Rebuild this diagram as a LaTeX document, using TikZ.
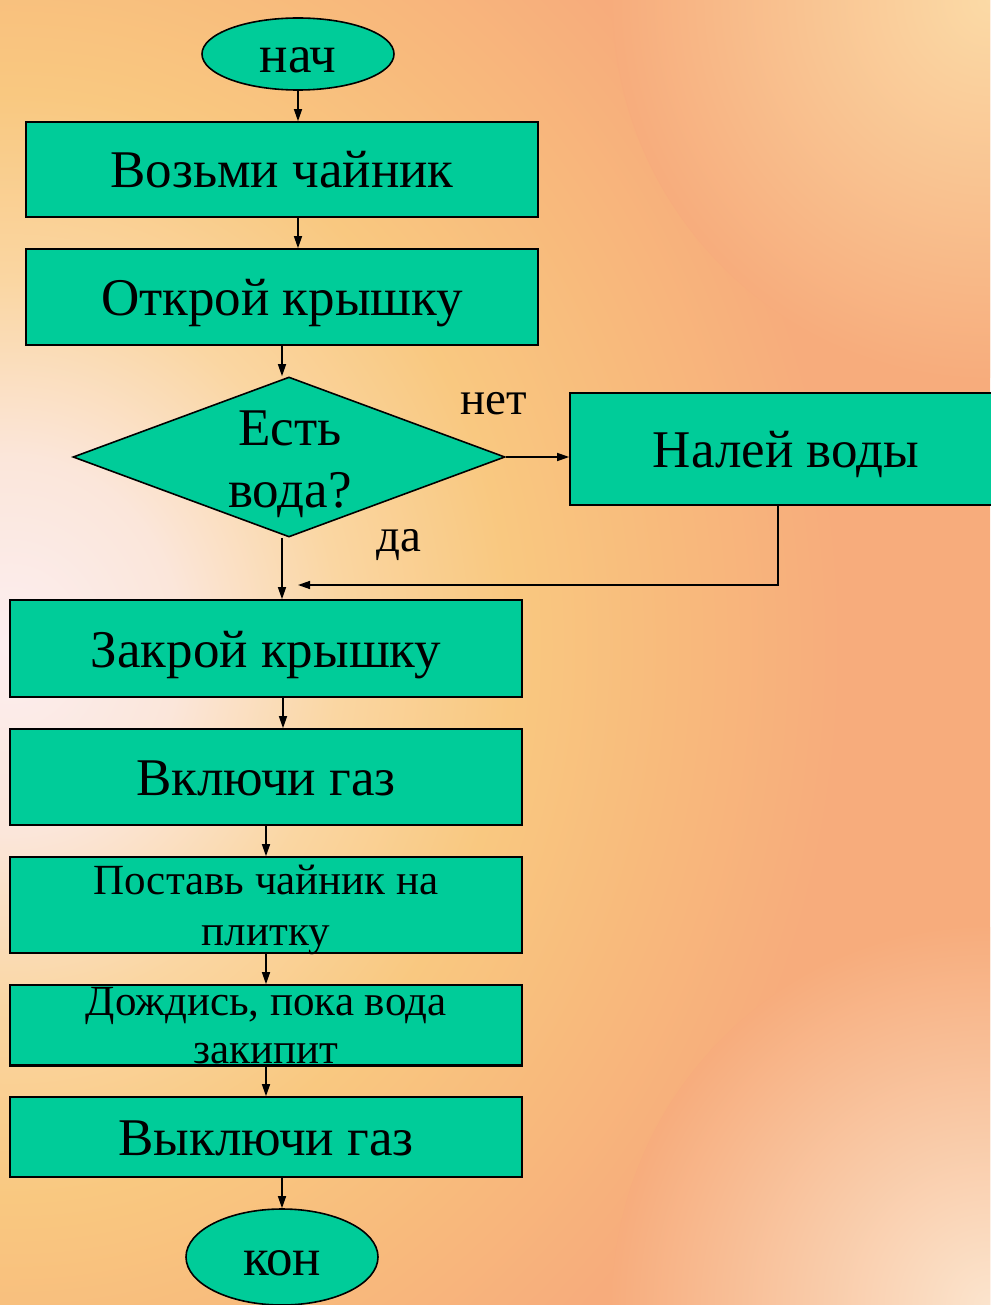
\documentclass[tikz,border=0pt]{standalone}
\usepackage{fontspec}
\setmainfont{Liberation Serif}
\usetikzlibrary{shapes.geometric,arrows.meta}
\definecolor{bgbase}{RGB}{247,172,124}
\definecolor{bgA}{RGB}{252,238,240}
\definecolor{bgB}{RGB}{251,230,218}
\definecolor{bgC}{RGB}{250,214,162}
\definecolor{bgD}{RGB}{249,200,128}
\definecolor{bgE}{RGB}{248,186,124}
\definecolor{bglight}{RGB}{251,218,166}
\definecolor{bgcorner}{RGB}{251,228,205}
\definecolor{flowgreen}{RGB}{0,204,153}
\pgfdeclareradialshading{mainglow}{\pgfpointorigin}{color(0bp)=(bgA); color(170bp)=(bgB); color(330bp)=(bgC); color(500bp)=(bgD); color(660bp)=(bgE); color(830bp)=(bgbase); color(1300bp)=(bgbase)}
\pgfdeclareradialshading{trglow}{\pgfpointorigin}{color(0bp)=(bglight); color(380bp)=(bgbase)}
\pgfdeclareradialshading{brglow}{\pgfpointorigin}{color(0bp)=(bgcorner); color(380bp)=(bgbase)}
\tikzset{
  stepbox/.style={draw=black, line width=1.6pt, fill=flowgreen, rectangle,
    minimum width=512pt, inner sep=0pt, font=\fontsize{53}{58}\selectfont,
    text height=37pt, text depth=0pt},
  term/.style={draw=black, line width=1.6pt, fill=flowgreen, ellipse,
    minimum width=192pt, inner sep=0pt, font=\fontsize{53}{58}\selectfont,
    text height=37pt, text depth=0pt},
  decis/.style={draw=black, line width=1.6pt, fill=flowgreen, diamond,
    minimum width=432pt, minimum height=160pt, inner sep=0pt},
  txt/.style={inner sep=0pt, anchor=base},
  bigtxt/.style={txt, font=\fontsize{53}{58}\selectfont},
  midtxt/.style={txt, font=\fontsize{43}{50}\selectfont},
  labtxt/.style={txt, font=\fontsize{47}{50}\selectfont},
  arr/.style={line width=1.4pt, -{Triangle[length=12pt,width=8pt]}},
  glow/.style={inner sep=0pt, outer sep=0pt, transform shape},
}
\begin{document}
\begin{tikzpicture}[x=1pt,y=-1pt]
\useasboundingbox (0,0) rectangle (990,1305);
% background
\begin{scope}
\clip (0,0) rectangle (990,1305);
\node[glow, yscale=1.1] (bgmain) at (10,645) {\pgfuseshading{mainglow}};
\begin{scope}
\clip (990,0) circle [radius=378];
\node[glow] (bgtr) at (990,0) {\pgfuseshading{trglow}};
\end{scope}
\begin{scope}
\clip (990,1305) circle [radius=378];
\node[glow] (bgbr) at (990,1305) {\pgfuseshading{brglow}};
\end{scope}
\end{scope}

% nodes
\node[term, minimum height=72pt] (start) at (298,54) {нач};
\node[stepbox, minimum height=95pt] (b1) at (282,169.5) {Возьми чайник};
\node[stepbox, minimum height=96pt] (b2) at (282,297) {Открой крышку};
\node[decis] (d) at (289,457) {};
\node[bigtxt] (d1) at (290,445) {Есть};
\node[bigtxt] (d2) at (290,507) {вода?};
\node[labtxt] (no) at (494,414) {нет};
\node[labtxt] (yes) at (399,551) {да};
\node[stepbox, minimum width=432pt, minimum height=112pt] (n) at (786,449) {Налей воды};
\node[stepbox, minimum height=97pt] (b3) at (266,648.5) {Закрой крышку};
\node[stepbox, minimum height=96pt] (b4) at (266,777) {Включи газ};
\node[stepbox, minimum height=96pt] (b5) at (266,905) {};
\node[midtxt] (b5a) at (266,894) {Поставь чайник на};
\node[midtxt] (b5b) at (266,945) {плитку};
\node[stepbox, minimum height=80pt] (b6) at (266,1025) {};
\node[midtxt] (b6a) at (266,1015) {Дождись, пока вода};
\node[midtxt] (b6b) at (266,1063) {закипит};
\draw[line width=1.6pt] (b6.south west) -- (b6.south east);
\node[stepbox, minimum height=80pt] (b7) at (266,1137) {Выключи газ};
\node[term, minimum height=96pt] (end) at (282,1257) {кон};

% connectors
\coordinate (m) at (298,585);
\coordinate (nb) at (778,505);
\draw[arr] (start.south) -- (start.south |- b1.north);
\draw[arr] ([xshift=16pt]b1.south) -- ([xshift=16pt]b2.north);
\draw[arr] (b2.south) -- (b2.south |- d.north);
\draw[arr] (d.east) -- (d.east -| n.west);
\draw[arr] (nb |- n.south) |- (m);
\draw[arr] (d.south -| b2.south) -- (b2.south |- b3.north);
\draw[arr] ([xshift=17pt]b3.south) -- ([xshift=17pt]b4.north);
\draw[arr] (b4.south) -- (b5.north);
\draw[arr] (b5.south) -- (b6.north);
\draw[arr] (b6.south) -- (b7.north);
\draw[arr] (end.north |- b7.south) -- (end.north);
\end{tikzpicture}
\end{document}
